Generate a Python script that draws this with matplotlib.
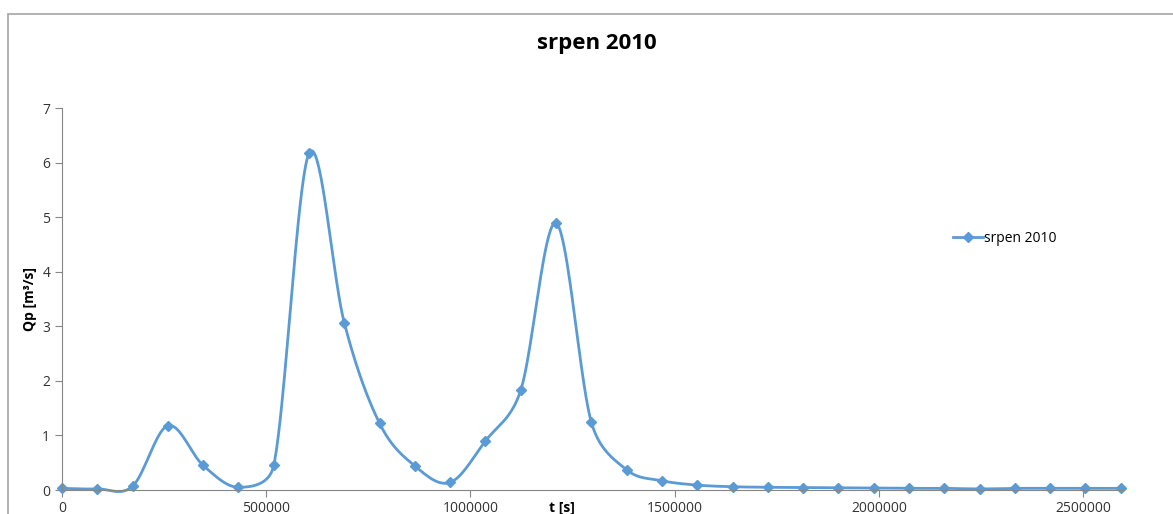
import numpy as np
import matplotlib.pyplot as plt
from matplotlib.patches import Rectangle

# data: průtok po dnech (srpen 2010)
t_s = np.arange(31) * 86400
qp = [0.03, 0.02, 0.07, 1.18, 0.45, 0.05, 0.45, 6.17, 3.06, 1.22,
      0.44, 0.14, 0.90, 1.83, 4.89, 1.24, 0.37, 0.17, 0.09, 0.06,
      0.05, 0.045, 0.04, 0.035, 0.03, 0.03, 0.02, 0.03, 0.03, 0.03, 0.03]
x_ticks = [0, 500000, 1000000, 1500000, 2000000, 2500000]
y_ticks = [0, 1, 2, 3, 4, 5, 6, 7]
series_name = 'srpen 2010'
title = 'srpen 2010'

plt.rcParams['font.family'] = ['Open Sans', 'DejaVu Sans']
blue = '#5B9BD5'


def smooth(x, y, sx=1.0, sy=1.0, n=40):
    # vyhlazení jako v Excelu (Bezierovy úseky, tenze 1/6, zkrácené tečny)
    P = np.column_stack([np.asarray(x, float) * sx, np.asarray(y, float) * sy])
    m = len(P)
    u = np.linspace(0, 1, n)
    out = []
    for i in range(m - 1):
        p0 = P[max(i - 1, 0)]
        p1 = P[i]
        p2 = P[i + 1]
        p3 = P[min(i + 2, m - 1)]
        d12 = np.hypot(*(p2 - p1))
        d02 = np.hypot(*(p2 - p0))
        d13 = np.hypot(*(p3 - p1))
        f1 = 1 / 6
        f2 = 1 / 6
        if d02 / 6 >= d12 / 2 and d02 > 0:
            f1 = d12 / d02 / 2
        if d13 / 6 >= d12 / 2 and d13 > 0:
            f2 = d12 / d13 / 2
        c1 = p1 + (p2 - p0) * f1
        c2 = p2 - (p3 - p1) * f2
        pts = ((1 - u) ** 3)[:, None] * p1 + (3 * (1 - u) ** 2 * u)[:, None] * c1 \
            + (3 * (1 - u) * u ** 2)[:, None] * c2 + (u ** 3)[:, None] * p2
        out.append(pts)
    out = np.vstack(out)
    return out[:, 0] / sx, out[:, 1] / sy


fig = plt.figure(figsize=(11.73, 5.14), dpi=100)
fig.patches.append(Rectangle((8 / 1173, -0.1), 1.2, 1.1 - 14 / 514, transform=fig.transFigure,
                             fill=False, edgecolor='#a6a6a6', linewidth=1.2))

ax = fig.add_axes([62 / 1173, 1 - 490 / 514, (1124 - 62) / 1173, (490 - 108) / 514])
# měřítko v pixelech, aby vyhlazení odpovídalo tvaru na obrazovce
kx = (1124 - 62) / 2600000
ky = (490 - 108) / 7
lx, ly = smooth(t_s, qp, kx, ky)
ax.plot(lx, ly, color=blue, linewidth=2, clip_on=False)
ax.plot(t_s, qp, linestyle='none', marker='D', markersize=5, color=blue, clip_on=False)
ax.plot([], [], color=blue, linewidth=2, marker='D', markersize=5, label=series_name)

ax.set_xlim(0, 2600000)
ax.set_ylim(0, 7)
ax.set_xticks(x_ticks)
ax.set_xticklabels([str(v) for v in x_ticks])
ax.set_yticks(y_ticks)
for s in ['top', 'right']:
    ax.spines[s].set_visible(False)
for s in ['left', 'bottom']:
    ax.spines[s].set_color('#868686')
ax.tick_params(colors='#868686', labelcolor='#333333', labelsize=10, length=5)
ax.tick_params(axis='x', pad=3)

fig.text(597 / 1173, 1 - 44 / 514, title, ha='center', va='center', fontsize=16, fontweight='bold')
fig.text(30 / 1173, 1 - 299 / 514, 'Qp [m³/s]', rotation=90, ha='center', va='center',
         fontsize=10, fontweight='bold')
fig.text(562 / 1173, 1 - 508 / 514, 't [s]', ha='center', va='center', fontsize=10, fontweight='bold')

ax.legend(loc='center left', bbox_to_anchor=(940 / 1173, 1 - 238 / 514), bbox_transform=fig.transFigure,
          frameon=False, fontsize=10, handlelength=2.2, handletextpad=0.1)

plt.savefig('out.png', dpi=100)
